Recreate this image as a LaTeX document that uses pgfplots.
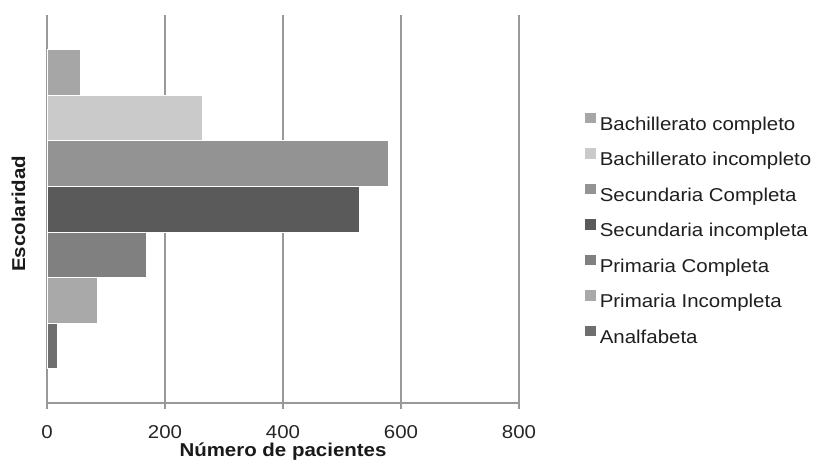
\documentclass[border=0pt]{standalone}
\usepackage{pgfplots}
\pgfplotsset{compat=1.18}
\usepackage{fontspec}
\setmainfont[FakeStretch=1.1]{Liberation Sans}
\newcommand\chartfont{\fontsize{18.6bp}{21bp}\selectfont}
\definecolor{cBC}{HTML}{A6A6A6}
\definecolor{cBI}{HTML}{CACACA}
\definecolor{cSC}{HTML}{939393}
\definecolor{cSI}{HTML}{5A5A5A}
\definecolor{cPC}{HTML}{808080}
\definecolor{cPI}{HTML}{A9A9A9}
\definecolor{cAN}{HTML}{6E6E6E}
\definecolor{gridc}{HTML}{999999}
\begin{document}
\begin{tikzpicture}
\useasboundingbox (-47bp,-63bp) rectangle (772bp,403bp);
\begin{axis}[
  at={(0,0)}, anchor=south west,
  scale only axis, width=472bp, height=388bp,
  xbar, bar width=1, bar shift=0pt,
  xmin=0, xmax=800, ymin=-0.25, ymax=8.25,
  xtick={0,200,400,600,800}, ytick=\empty,
  axis lines=left, axis line style={-, draw=gridc, line width=1.3bp},
  xmajorgrids, major grid style={draw=gridc, line width=1.3bp},
  tick align=outside, major tick length=6bp,
  xtick style={draw=gridc, line width=1.3bp},
  /pgf/number format/assume math mode=true,
  ticklabel style={font=\chartfont, text=black!85},
  xticklabel style={yshift=-13bp},
  xlabel={\bfseries Número de pacientes},
  ylabel={\bfseries Escolaridad},
  x label style={at={(axis description cs:0.5,0)}, anchor=base, yshift=-53.5bp, font=\chartfont, text=black!90},
  y label style={at={(axis description cs:-0.0466,0.488)}, anchor=base, font=\chartfont, text=black!90},
  legend style={at={(axis description cs:1.14,0.749)}, anchor=north west, draw=none, fill=none, inner sep=0pt, row sep=14bp, font=\chartfont, text=black!88,
    nodes={inner sep=0pt, text height=13bp, text depth=4bp},
    /tikz/every odd column/.append style={column sep=4bp}},
  legend cell align=left,
  legend image code/.code={\fill[#1,draw=none] (0bp,2.5bp) rectangle (10.5bp,13bp);},
  every axis plot/.append style={draw=white, line width=0.6bp},
]
\addplot[fill=cBC] coordinates {(56,7)};
\addlegendentry{Bachillerato completo}
\addplot[fill=cBI] coordinates {(264,6)};
\addlegendentry{Bachillerato incompleto}
\addplot[fill=cSC] coordinates {(578,5)};
\addlegendentry{Secundaria Completa}
\addplot[fill=cSI] coordinates {(530,4)};
\addlegendentry{Secundaria incompleta}
\addplot[fill=cPC] coordinates {(169,3)};
\addlegendentry{Primaria Completa}
\addplot[fill=cPI] coordinates {(86,2)};
\addlegendentry{Primaria Incompleta}
\addplot[fill=cAN] coordinates {(17,1)};
\addlegendentry{Analfabeta}
\end{axis}
\end{tikzpicture}
\end{document}
